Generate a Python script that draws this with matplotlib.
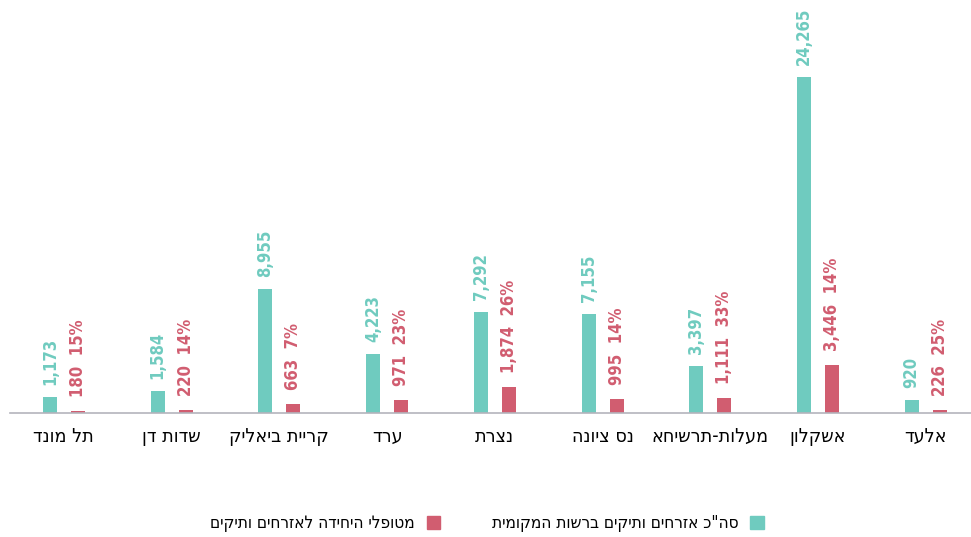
import matplotlib.pyplot as plt
import numpy as np
from matplotlib.patches import Patch

# data, left to right as in the picture
cities = ["תל מונד", "שדות דן", "קריית ביאליק", "ערד", "נצרת",
          "נס ציונה", "מעלות-תרשיחא", "אשקלון", "אלעד"]
total_seniors = [1173, 1584, 8955, 4223, 7292, 7155, 3397, 24265, 920]
treated = [180, 220, 663, 971, 1874, 995, 1111, 3446, 226]
treated_pct = [15, 14, 7, 23, 26, 14, 33, 14, 25]
legend_labels = ['סה"כ אזרחים ותיקים ברשות המקומית', "מטופלי היחידה לאזרחים ותיקים"]

TEAL = "#6fcbbf"
RED = "#d15d70"


def rtl(s):
    # matplotlib has no bidi support, flip hebrew by hand
    return s[::-1]


plt.rcParams['font.family'] = ['DejaVu Sans']
plt.rcParams['font.stretch'] = 'condensed'

fig = plt.figure(figsize=(9.71, 5.37), dpi=100)
ax = fig.add_axes([10 / 971, 124 / 537, 961 / 971, 413 / 537])

x = np.arange(len(cities))
off = 0.13
w = 0.13
ax.bar(x - off, total_seniors, width=w, color=TEAL)
ax.bar(x + off, treated, width=w, color=RED)

# value labels, rotated
for i in range(len(cities)):
    ax.annotate(f"{total_seniors[i]:,}", (x[i] - off, total_seniors[i]),
                xytext=(0, 12), textcoords="offset pixels", rotation=90,
                ha="center", va="bottom", color=TEAL, fontsize=12,
                fontweight="bold")
    ax.annotate(f"{treated[i]:,}  {treated_pct[i]}%", (x[i] + off, treated[i]),
                xytext=(0, 14), textcoords="offset pixels", rotation=90,
                ha="center", va="bottom", color=RED, fontsize=12,
                fontweight="bold")

ax.set_xlim(-0.5, 8.42)
ax.set_ylim(0, 29800)
ax.set_xticks(x)
ax.set_xticklabels([rtl(c) for c in cities], fontsize=14)
ax.tick_params(axis="x", length=0, pad=10)
ax.set_yticks([])
for s in ["top", "right", "left"]:
    ax.spines[s].set_visible(False)
ax.spines["bottom"].set_color("#b4b4bc")
ax.spines["bottom"].set_linewidth(1.2)

handles = [Patch(color=RED, label=rtl(legend_labels[1])),
           Patch(color=TEAL, label=rtl(legend_labels[0]))]
fig.legend(handles=handles, loc="center", bbox_to_anchor=(487 / 971, 1 - 523 / 537),
           ncol=2, frameon=False, markerfirst=False, fontsize=12.3,
           handlelength=0.8, handleheight=0.8, columnspacing=3.0, handletextpad=0.7)

fig.savefig("out.png", dpi=100)
